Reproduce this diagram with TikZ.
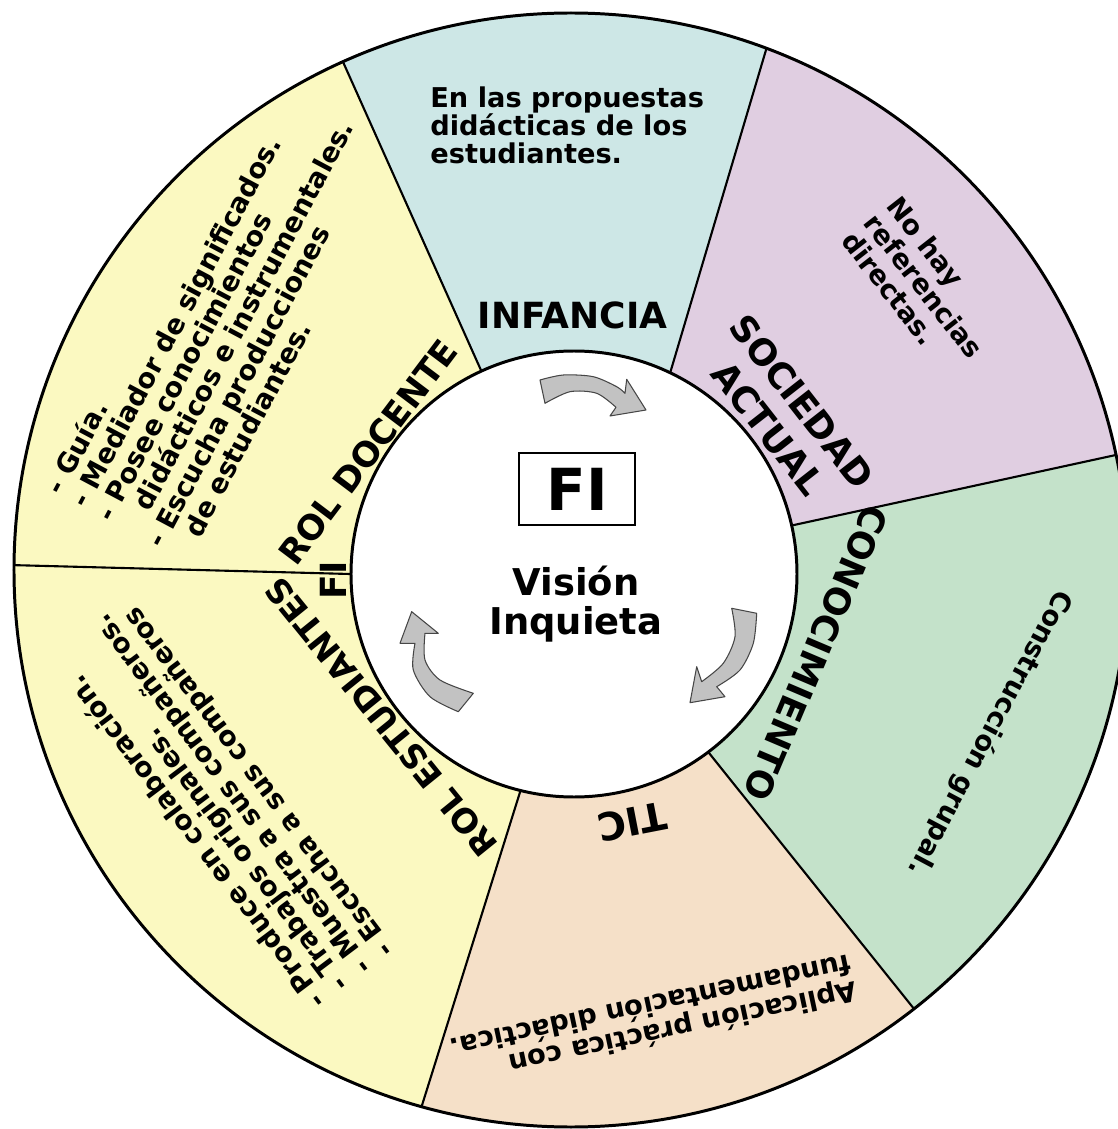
\documentclass[tikz,border=0pt]{standalone}
\usepackage{fontspec}
\setmainfont{DejaVu Sans}
\usepackage{xcolor}
\definecolor{seg-yellow}{RGB}{251,249,193}
\definecolor{seg-blue}{RGB}{205,231,230}
\definecolor{seg-lilac}{RGB}{224,206,225}
\definecolor{seg-green}{RGB}{196,226,202}
\definecolor{seg-peach}{RGB}{245,224,200}
\definecolor{arrow-grey}{RGB}{194,194,194}
\definecolor{arrow-edge}{RGB}{70,70,70}
\usepackage{tikz}
\usetikzlibrary{calc}
\newcommand{\headfont}{\fontsize{20.5}{24.5}\selectfont\bfseries}
\newcommand{\notefont}{\fontsize{15.5}{16.2}\selectfont\bfseries}

\begin{document}
\begin{tikzpicture}[
    x=0.02cm, y=0.02cm,
    segment line/.style={line width=1.2pt, draw=black},
    ring line/.style={line width=1.7pt, draw=black},
    heading/.style={
        font=\headfont,
        inner sep=0pt,
        align=center
    },
    note/.style={
        font=\notefont,
        inner sep=0pt,
        align=left
    },
    turn arrow/.style={fill=arrow-grey, draw=arrow-edge, line width=0.6pt, line join=round}
]

% page
\fill[white] (-571,-559) rectangle (546,570);
\useasboundingbox (-571,-559) rectangle (546,570);

% boundary points
\coordinate (hub) at (3,-4);
\coordinate (in1) at (-91,202);  \coordinate (out1) at (-253,564);
\coordinate (in2) at (100,200);  \coordinate (out2) at (214,584);
\coordinate (in3) at (223,45);   \coordinate (out3) at (600,127);
\coordinate (in4) at (138,-183); \coordinate (out4) at (384,-490);
\coordinate (in5) at (-50,-219); \coordinate (out5) at (-168,-596);
\coordinate (in6) at (-221,-4);  \coordinate (out6) at (-600,6);

% segments
\begin{scope}
\clip (0,0) circle[radius=557];
\fill[seg-yellow] (in6) -- (out6) -- (146:900) -- (out1) -- (in1) -- (hub) -- cycle;
\fill[seg-blue] (in1) -- (out1) -- (92:900) -- (out2) -- (in2) -- (hub) -- cycle;
\fill[seg-lilac] (in2) -- (out2) -- (41:900) -- (out3) -- (in3) -- (hub) -- cycle;
\fill[seg-green] (in3) -- (out3) -- (-20:900) -- (out4) -- (in4) -- (hub) -- cycle;
\fill[seg-peach] (in4) -- (out4) -- (-79:900) -- (out5) -- (in5) -- (hub) -- cycle;
\fill[seg-yellow] (in5) -- (out5) -- (216:900) -- (out6) -- (in6) -- (hub) -- cycle;
\foreach \k in {1,...,6}
    \draw[segment line] ($(in\k)!-0.05!(out\k)$) -- (out\k);
\end{scope}
\draw[ring line] (0,0) circle[radius=557];

% inner circle
\filldraw[ring line, fill=white] (hub) circle[radius=223];

% Infancia
\node[heading] (infancia) at (1.5,255) {INFANCIA};
\node[note, anchor=north west] (infancia text) at (-141,484)
    {En las propuestas\\didácticas de los\\estudiantes.};

% Sociedad actual
\node[heading, rotate=-52] (sociedad) at (214,155) {SOCIEDAD\\ACTUAL};
\node[note, rotate=-52] (sociedad text) at (353,284)
    {No hay\\referencias\\directas.};

% Conocimiento
\node[heading, rotate=-113] (conocimiento) at (245,-83) {CONOCIMIENTO};
\node[note, rotate=-118] (conocimiento text) at (419,-163) {Construcción grupal.};

% TIC
\node[heading, font=\fontsize{22}{26}\selectfont\bfseries, rotate=191] (tic) at (61,-252) {TIC};
\node[note, rotate=192] (tic text) at (83,-451)
    {Aplicación práctica con\\fundamentación didáctica.};

% Rol estudiantes
\node[heading, font=\fontsize{19}{23}\selectfont\bfseries, rotate=129] (estudiantes) at (-190,-147) {ROL ESTUDIANTES};
\node[note, rotate=127] (estudiantes text) at (-349,-233)
    {- Produce en colaboración.\\- Trabajos originales.\\- Muestra a sus compañeros.\\- Escucha a sus compañeros};

% Rol docente
\node[heading, font=\fontsize{19.5}{23}\selectfont\bfseries, rotate=53] (docente) at (-203,118) {ROL DOCENTE};
\node[note, rotate=62] (docente text) at (-347,250)
    {- Guía.\\- Mediador de significados.\\- Posee conocimientos\\\hspace*{1em}didácticos e instrumentales.\\- Escucha producciones\\\hspace*{1em}de estudiantes.};
\node[heading, rotate=90] (fi side) at (-238,-10) {FI};

% centre
\node[draw, line width=0.7pt, minimum width=2.32cm, minimum height=1.44cm,
      font=\fontsize{33}{36}\selectfont\bfseries] (fi box) at (6,81) {FI};
\node[align=center, font=\fontsize{21}{22.2}\selectfont\bfseries] (vision) at (5,-34)
    {Visión\\Inquieta};

% turning arrows
\filldraw[turn arrow] (-26,166.7) -- (-31,190)
    -- plot[smooth] coordinates {(-31,190) (-7.7,195) (22.3,193.3) (45.7,183.3) (54,176.7)}
    -- (55.7,190.7) -- (75,160) -- (39,154)
    -- plot[smooth] coordinates {(45,162.7) (25.7,176.7) (-1,178.3) (-26,166.7)} -- cycle;
\filldraw[turn arrow] (160.7,-38.3) -- (185.7,-43.3)
    -- plot[smooth] coordinates {(185.7,-43.3) (182.3,-73.3) (169,-100) (145.7,-116.7)}
    -- (154,-126.7) -- (119,-132.7) -- (125.7,-96.7)
    -- plot[smooth] coordinates {(130.7,-111.7) (152.3,-93.3) (164,-66.7) (160.7,-38.3)} -- cycle;
\filldraw[turn arrow] (-159.3,-41.7) -- (-132.7,-63.3)
    -- plot[smooth] coordinates {(-146,-63.3) (-146,-90) (-131,-110) (-97.7,-123.3)}
    -- (-112.7,-141.7)
    -- plot[smooth] coordinates {(-112.7,-141.7) (-141,-126.7) (-157.7,-100) (-156,-73.3)}
    -- (-171,-73.3) -- cycle;

\end{tikzpicture}
\end{document}
